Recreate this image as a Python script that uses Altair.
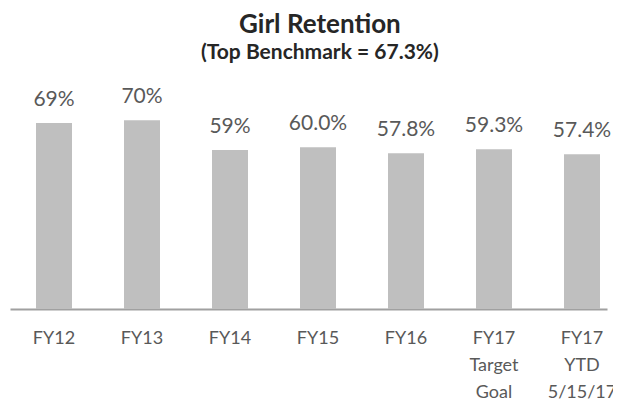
import altair as alt
import pandas as pd

categories = ["FY12", "FY13", "FY14", "FY15", "FY16", "FY17\nTarget\nGoal", "FY17\nYTD\n5/15/17"]
values = [69.0, 70.0, 59.0, 60.0, 57.8, 59.3, 57.4]
value_labels = ["69%", "70%", "59%", "60.0%", "57.8%", "59.3%", "57.4%"]

df = pd.DataFrame({"cat": categories, "val": values, "lbl": value_labels})

FONT = "Lato"

x = alt.X(
    "cat:N",
    sort=categories,
    title=None,
    scale=alt.Scale(paddingInner=0.5909, paddingOuter=0.1875, align=0.788, round=False),
    axis=alt.Axis(
        labelExpr="split(datum.label, '\\n')",
        labelAngle=0,
        labelFont=FONT,
        labelFontSize=18,
        labelColor="#595959",
        labelLineHeight=27,
        labelPadding=20,
        ticks=False,
        tickSize=0,
        domainColor="#a0a0a0",
        domainWidth=2,
        grid=False,
    ),
)
y = alt.Y("val:Q", scale=alt.Scale(domain=[0, 82]), axis=None)

bars = alt.Chart(df).mark_bar(color="#bfbfbf").encode(x=x, y=y)
labels = alt.Chart(df).mark_text(
    font=FONT, fontSize=21, color="#595959", baseline="alphabetic", dy=-17
).encode(x=x, y=y, text="lbl:N")

chart = (
    alt.layer(bars, labels)
    .properties(
        width=597,
        height=221,
        autosize=alt.AutoSizeParams(type="none"),
        padding={"left": 2, "top": 80, "right": 6, "bottom": 96},
        title=alt.TitleParams(
            text="Girl Retention",
            subtitle="(Top Benchmark = 67.3%)",
            font=FONT,
            fontSize=26,
            fontWeight="bold",
            color="#262626",
            subtitleFont=FONT,
            subtitleFontSize=21,
            subtitleFontWeight="bold",
            subtitleColor="#262626",
            subtitlePadding=4,
            anchor="middle",
            frame="bounds",
            dx=7,
            offset=23,
        ),
    )
    .configure_view(stroke=None)
)

chart.save("out.html", embed_options={"renderer": "svg", "actions": False})
